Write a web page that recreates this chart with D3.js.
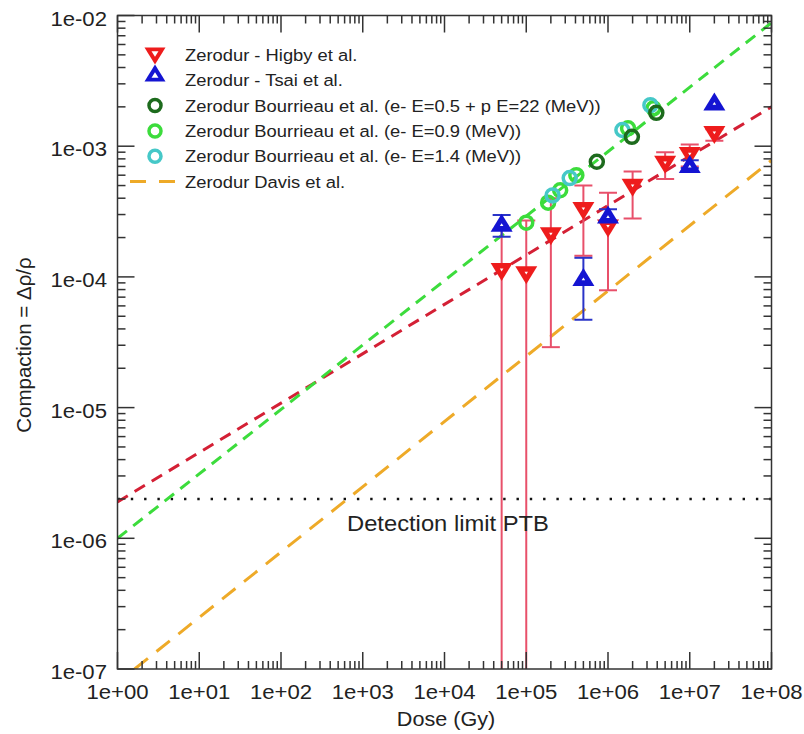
<!DOCTYPE html>
<html>
<head>
<meta charset="utf-8">
<script src="https://cdn.jsdelivr.net/npm/d3@7"></script>
<style>
  body { margin: 0; background: #fff; }
  svg text { font-family: "Liberation Sans", Arial, Helvetica, sans-serif; fill: #222; }
</style>
</head>
<body>
<svg id="chart" width="804" height="734"></svg>
<script>

// ---- data ----
var higbyDose = [5e4, 1e5, 2e5, 5e5, 1e6, 2e6, 5e6, 1e7, 2e7];
var higbyVal  = [1.09e-4, 1.03e-4, 2.05e-4, 3.2e-4, 2.35e-4, 4.8e-4, 7.2e-4, 8.4e-4, 1.22e-3];
var higbyLo   = [1e-8, 1e-8, 2.9e-5, 1.45e-4, 7.9e-5, 2.8e-4, 5.6e-4, 7.0e-4, 1.1e-3];
var higbyHi   = [2.3e-4, 2.7e-4, 4.0e-4, 5.0e-4, 4.4e-4, 6.4e-4, 9.0e-4, 1.03e-3, 1.35e-3];

var tsaiDose = [5e4, 5e5, 1e6, 1e7, 2e7];
var tsaiVal  = [2.6e-4, 1.0e-4, 3.0e-4, 7.3e-4, 2.2e-3];
var tsaiLo   = [2.03e-4, 4.7e-5, 2.7e-4, 6.8e-4, 2.2e-3];
var tsaiHi   = [2.98e-4, 1.4e-4, 3.3e-4, 7.8e-4, 2.2e-3];

var bourDarkDose  = [7.3e5, 1.96e6, 3.9e6];
var bourDarkVal   = [7.6e-4, 1.18e-3, 1.8e-3];
var bourGreenDose = [1e5, 1.85e5, 2.6e5, 4.1e5, 1.76e6, 3.6e6];
var bourGreenVal  = [2.6e-4, 3.7e-4, 4.6e-4, 6.0e-4, 1.37e-3, 1.95e-3];
var bourCyanDose  = [2.1e5, 3.4e5, 1.5e6, 3.3e6];
var bourCyanVal   = [4.2e-4, 5.7e-4, 1.33e-3, 2.06e-3];

// fitted power laws, as two end points [dose, compaction]
var fitGreen  = [[1, 1.0e-6], [1e8, 8.8e-3]];
var fitRed    = [[1, 1.9e-6], [1e8, 2.0e-3]];
var fitOrange = [[1.62, 1.0e-7], [1e8, 7.8e-4]];
var detectionLimit = 2e-6;

var xTicks = [1e0, 1e1, 1e2, 1e3, 1e4, 1e5, 1e6, 1e7, 1e8];
var yTicks = [1e-7, 1e-6, 1e-5, 1e-4, 1e-3, 1e-2];

var legendLabels = [
  "Zerodur - Higby et al.",
  "Zerodur - Tsai et al.",
  "Zerodur Bourrieau et al. (e- E=0.5 + p E=22 (MeV))",
  "Zerodur Bourrieau et al. (e- E=0.9 (MeV))",
  "Zerodur Bourrieau et al. (e- E=1.4 (MeV))",
  "Zerodur Davis et al."
];

// ---- colours ----
var cRed = "#ee1c1c", cRedBar = "#e8506a", cBlue = "#1414d2",
    cDark = "#1d6b1d", cGreen = "#3cdc3c", cCyan = "#46c8c8",
    cRedLine = "#d42035", cOrange = "#eeaa28";

var pLeft = 117.5, pRight = 771.5, pTop = 15.5, pBottom = 669;

var svg = d3.select("#chart");

var x = d3.scaleLog().domain([1, 1e8]).range([pLeft, pRight]);
var y = d3.scaleLog().domain([1e-7, 1e-2]).range([pBottom, pTop]);

svg.append("clipPath").attr("id", "plotclip")
  .append("rect").attr("x", pLeft).attr("y", pTop)
  .attr("width", pRight - pLeft).attr("height", pBottom - pTop);

var plot = svg.append("g").attr("clip-path", "url(#plotclip)");

// stretched text like the reference (slightly wide glyphs)
function wideText(g, tx, ty, str, size, anchor) {
  return g.append("text")
    .attr("transform", "translate(" + tx + "," + ty + ") scale(1.08,1)")
    .attr("font-size", size)
    .attr("text-anchor", anchor || "start")
    .text(str);
}

// ---- detection limit ----
plot.append("line")
  .attr("x1", pLeft).attr("x2", pRight)
  .attr("y1", y(detectionLimit)).attr("y2", y(detectionLimit))
  .attr("stroke", "#111").attr("stroke-width", 2.6)
  .attr("stroke-dasharray", "2.4,10.9");
wideText(svg, 347, 531, "Detection limit PTB", 22);

// ---- fit lines ----
var line = d3.line().x(function(d){ return x(d[0]); }).y(function(d){ return y(d[1]); });

plot.append("path").datum(fitOrange).attr("d", line)
  .attr("fill", "none").attr("stroke", cOrange).attr("stroke-width", 3)
  .attr("stroke-dasharray", "17,11");
plot.append("path").datum(fitRed).attr("d", line)
  .attr("fill", "none").attr("stroke", cRedLine).attr("stroke-width", 3)
  .attr("stroke-dasharray", "12,8");
plot.append("path").datum(fitGreen).attr("d", line)
  .attr("fill", "none").attr("stroke", cGreen).attr("stroke-width", 3)
  .attr("stroke-dasharray", "12,8");

// ---- error bars ----
function errorBars(dose, lo, hi, color) {
  var g = plot.append("g").attr("stroke", color).attr("stroke-width", 2);
  dose.forEach(function(d, i){
    if (lo[i] === hi[i]) return;
    g.append("line").attr("x1", x(d)).attr("x2", x(d))
      .attr("y1", y(lo[i])).attr("y2", y(hi[i]));
    [lo[i], hi[i]].forEach(function(v){
      g.append("line").attr("x1", x(d) - 9).attr("x2", x(d) + 9)
        .attr("y1", y(v)).attr("y2", y(v));
    });
  });
}
errorBars(higbyDose, higbyLo, higbyHi, cRedBar);
errorBars(tsaiDose, tsaiLo, tsaiHi, "#2a34c8");

// ---- markers ----
function triPath(cx, cy, w, h, down) {
  var s = down ? -1 : 1;
  return "M" + (cx - w / 2) + "," + (cy + s * h / 2) +
         "L" + (cx + w / 2) + "," + (cy + s * h / 2) +
         "L" + cx + "," + (cy - s * h / 2) + "Z";
}
function triangle(g, cx, cy, color, down, w, h, inner) {
  g.append("path").attr("d", triPath(cx, cy, w, h, down)).attr("fill", color);
  g.append("path").attr("d", triPath(cx, cy + (down ? -2 : 2), inner, inner * 0.8, down)).attr("fill", "#fff");
}
function circles(dose, val, color) {
  plot.append("g").selectAll("circle")
    .data(dose).enter().append("circle")
    .attr("cx", function(d){ return x(d); })
    .attr("cy", function(d, i){ return y(val[i]); })
    .attr("r", 6.5).attr("fill", "none")
    .attr("stroke", color).attr("stroke-width", 3.5);
}

circles(bourGreenDose, bourGreenVal, cGreen);
circles(bourCyanDose, bourCyanVal, cCyan);
circles(bourDarkDose, bourDarkVal, cDark);

var triG = plot.append("g");
higbyDose.forEach(function(d, i){ triangle(triG, x(d), y(higbyVal[i]), cRed, true, 22, 18, 3.5); });
tsaiDose.forEach(function(d, i){ triangle(triG, x(d), y(tsaiVal[i]), cBlue, false, 22, 18, 3.5); });

// ---- axes: frame, inward ticks on all sides ----
var axisG = svg.append("g").attr("stroke", "#333").attr("stroke-width", 1.5);
axisG.append("rect").attr("x", pLeft).attr("y", pTop)
  .attr("width", pRight - pLeft).attr("height", pBottom - pTop).attr("fill", "none");

var xMinor = x.ticks(80).filter(function(t){ return xTicks.indexOf(t) < 0; });
var yMinor = y.ticks(60).filter(function(t){ return yTicks.indexOf(t) < 0; });

function xTick(v, len) {
  axisG.append("line").attr("x1", x(v)).attr("x2", x(v)).attr("y1", pBottom).attr("y2", pBottom - len);
  axisG.append("line").attr("x1", x(v)).attr("x2", x(v)).attr("y1", pTop).attr("y2", pTop + len);
}
function yTick(v, len) {
  axisG.append("line").attr("y1", y(v)).attr("y2", y(v)).attr("x1", pLeft).attr("x2", pLeft + len);
  axisG.append("line").attr("y1", y(v)).attr("y2", y(v)).attr("x1", pRight).attr("x2", pRight - len);
}
xTicks.forEach(function(t){ xTick(t, 17); });
xMinor.forEach(function(t){ xTick(t, 8); });
yTicks.forEach(function(t){ yTick(t, 17); });
yMinor.forEach(function(t){ yTick(t, 8); });

var fmt = function(v){ return v.toExponential(0).replace(/e([+-])(\d)$/, "e$10$2"); };

xTicks.forEach(function(t){ wideText(svg, x(t), 699, fmt(t), 20.5, "middle"); });
yTicks.forEach(function(t){ wideText(svg, 107, y(t) + 10, fmt(t), 20.5, "end"); });

// axis titles
wideText(svg, 446, 726, "Dose (Gy)", 20, "middle");
svg.append("text")
  .attr("transform", "translate(31,345) rotate(-90)")
  .attr("font-size", 20.5).attr("text-anchor", "middle")
  .text("Compaction = \u0394\u03c1/\u03c1");

// ---- legend ----
var legY0 = 55, legStep = 25.3, legX = 155;
var leg = svg.append("g");
legendLabels.forEach(function(lbl, i){
  var ly = legY0 + i * legStep;
  wideText(leg, 185, ly + 6, lbl, 17);
});
triangle(leg, legX, legY0 + 1, cRed, true, 21, 17, 7);
triangle(leg, legX, legY0 + 18, cBlue, false, 21, 17, 7);
[cDark, cGreen, cCyan].forEach(function(c, i){
  leg.append("circle").attr("cx", legX).attr("cy", legY0 + (i + 2) * legStep)
    .attr("r", 6).attr("fill", "none").attr("stroke", c).attr("stroke-width", 3.5);
});
leg.append("line").attr("x1", 130).attr("x2", 176)
  .attr("y1", legY0 + 5 * legStep).attr("y2", legY0 + 5 * legStep)
  .attr("stroke", cOrange).attr("stroke-width", 3).attr("stroke-dasharray", "16,13");

</script>
</body>
</html>
